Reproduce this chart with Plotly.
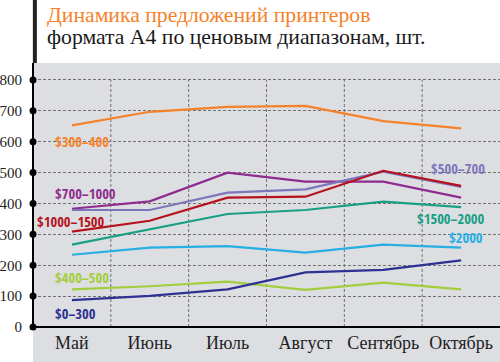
import plotly.graph_objects as go

months = ["Май", "Июнь", "Июль", "Август", "Сентябрь", "Октябрь"]
series_names = ["$300–400", "$700–1000", "$500–700", "$1000–1500", "$1500–2000", "$2000", "$400–500", "$0–300"]
s300_400 = [653, 697, 713, 716, 667, 643]
s700_1000 = [383, 407, 500, 471, 471, 419]
s500_700 = [379, 379, 435, 446, 503, 454]
s1000_1500 = [309, 344, 419, 422, 506, 457]
s1500_2000 = [267, 316, 366, 379, 406, 388]
s2000 = [234, 257, 262, 241, 267, 257]
s400_500 = [122, 132, 147, 120, 144, 122]
s0_300 = [87, 101, 122, 177, 185, 216]
y_ticks = [0, 100, 200, 300, 400, 500, 600, 700, 800]

values = [s300_400, s700_1000, s500_700, s1000_1500, s1500_2000, s2000, s400_500, s0_300]
colors = ["#f5822a", "#8e2b8e", "#7d76ba", "#b5121b", "#17a086", "#27aee4", "#a2cd3c", "#2e3192"]
label_pos = [(0.13, 602), (0.18, 431), (4.96, 512), (-0.01, 343), (4.87, 353), (5.06, 291), (0.13, 159), (0.05, 45)]

SERIF = "Liberation Serif"
LABEL = "Open Sans Condensed"

xi = list(range(len(months)))
fig = go.Figure()
for name, vals, col in zip(series_names, values, colors):
    fig.add_trace(go.Scatter(x=xi, y=vals, mode="lines", name=name,
                             line=dict(color=col, width=2.2), showlegend=False, hoverinfo="skip"))

fig.add_trace(go.Scatter(x=[-0.5] * len(y_ticks), y=y_ticks, mode="markers",
                         marker=dict(color="black", size=7), cliponaxis=False,
                         showlegend=False, hoverinfo="skip"))

W, H = 500, 362
pl, pt, pw, ph = 33, 63, 467, 264

shapes = []
shapes.append(dict(type="rect", xref="paper", yref="paper", x0=0, x1=1, y0=-(H - pt - ph) / ph, y1=0,
                   fillcolor="#dddee2", line=dict(width=0), layer="below"))
for gx in [0.5, 1.5, 2.5, 3.5, 4.5]:
    shapes.append(dict(type="line", xref="x", yref="y", x0=gx, x1=gx, y0=0, y1=800,
                       line=dict(color="#707070", width=1, dash="3px,2px"), layer="below"))
shapes.append(dict(type="line", xref="paper", yref="paper", x0=0, x1=0, y0=0, y1=1,
                   line=dict(color="black", width=2)))
shapes.append(dict(type="line", xref="paper", yref="paper", x0=0.004, x1=0.004, y0=1, y1=1 + pt / ph,
                   line=dict(color="#222", width=4)))

annotations = []
for name, (lx, ly), col in zip(series_names, label_pos, colors):
    annotations.append(dict(x=lx, y=ly, xref="x", yref="y", text="<b>" + name + "</b>", showarrow=False,
                            font=dict(family=LABEL, size=14.5, color=col)))
annotations.append(dict(x=(45 - pl) / pw, y=1 - (15 - pt) / ph, xref="paper", yref="paper",
                        text="Динамика предложений принтеров",
                        showarrow=False, xanchor="left", yanchor="middle",
                        font=dict(family=SERIF, size=21.7, color="#f5822a")))
annotations.append(dict(x=(45 - pl) / pw, y=1 - (37 - pt) / ph, xref="paper", yref="paper",
                        text="формата А4 по ценовым диапазонам, шт.",
                        showarrow=False, xanchor="left", yanchor="middle",
                        font=dict(family=SERIF, size=21.7, color="#1a1a1a")))

fig.update_layout(
    width=W, height=H,
    margin=dict(l=pl, r=0, t=pt, b=H - pt - ph),
    paper_bgcolor="white", plot_bgcolor="#dddee2",
    shapes=shapes, annotations=annotations,
    xaxis=dict(range=[-0.5, 5.5], tickvals=xi, ticktext=months, showgrid=False, zeroline=False,
               showline=False, ticks="", ticklabelstandoff=3, automargin=False,
               tickfont=dict(family=SERIF, size=18, color="#222")),
    yaxis=dict(range=[0, 855], tickvals=y_ticks, showgrid=True, gridcolor="#707070", griddash="3px,2px",
               gridwidth=1, zeroline=True, zerolinecolor="black", zerolinewidth=2, showline=False,
               ticks="", ticklabelstandoff=10, automargin=False,
               tickfont=dict(family=SERIF, size=15, color="#222")),
)
fig.write_html("out.html", config={"displayModeBar": False},
               post_script="document.body.style.margin='0';")
